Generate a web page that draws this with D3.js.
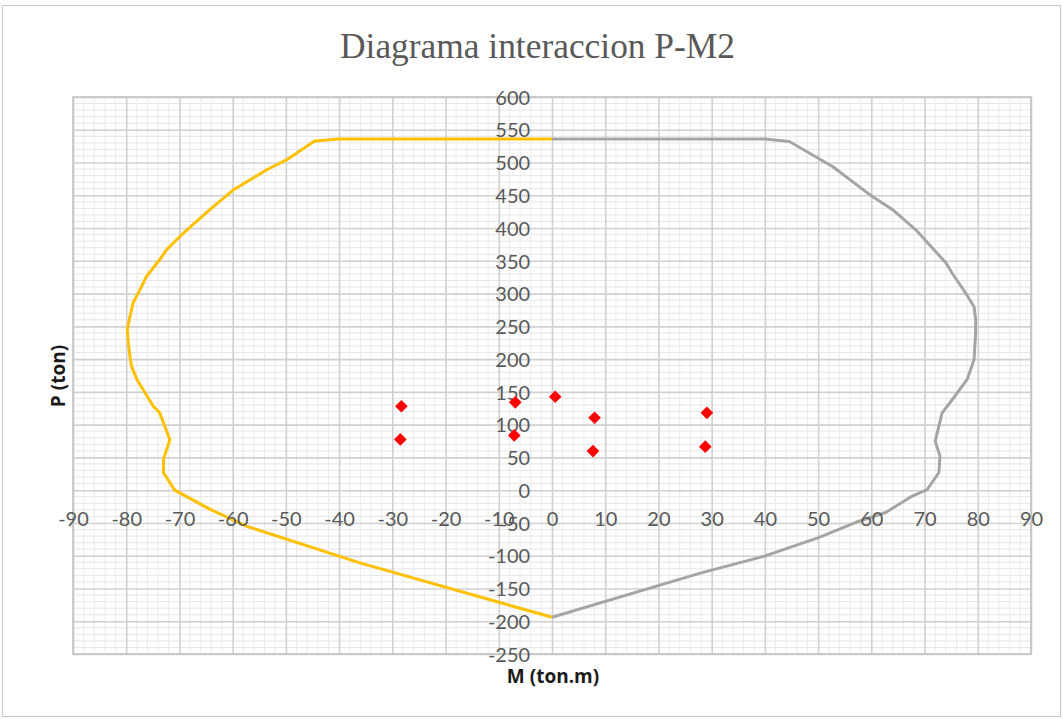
<!DOCTYPE html>
<html>
<head>
<meta charset="utf-8">
<script src="https://cdn.jsdelivr.net/npm/d3@7/dist/d3.min.js"></script>
<style>
  html, body { margin: 0; padding: 0; background: #ffffff; }
  svg { display: block; }
</style>
</head>
<body>
<svg id="chart" width="1063" height="719"></svg>
<script>
// Interaction curve, negative moment branch (M in ton.m, P in ton)
const negM = [0, -40, -44.6, -49.9, -53.6, -59.9, -64.3, -69.3, -72.4, -73.7, -76.2, -77.4, -78.7, -79.3, -79.8, -79.6, -79.3, -79.0, -78.0, -74.9, -73.7, -71.8, -73.0, -73.0, -70.9, -64.3, -57.4, -36.1, 0];
const negP = [536, 536, 533, 504, 489, 458, 428, 392, 367, 352, 326, 306, 286, 265, 245, 225, 204, 189, 169, 128, 118, 77, 47, 27, 0, -29, -55, -111, -194];

// Interaction curve, positive moment branch
const posM = [0, 40, 44.6, 52.7, 60.2, 64.0, 68.4, 74.0, 75.2, 77.7, 79.3, 79.6, 79.6, 79.3, 78.0, 75.2, 73.3, 72.0, 72.9, 72.7, 70.5, 67.7, 62.7, 57.1, 50.2, 40.2, 27.7, 0];
const posP = [536, 536, 532, 494, 448, 428, 397, 347, 331, 301, 280, 260, 240, 199, 169, 138, 118, 75, 52, 27, 1, -9, -34, -49, -72, -100, -127, -194];

// Load combinations (Mu, Pu)
const loadM = [-28.3, -28.5, -6.9, -7.1, 0.6, 8.0, 7.7, 29.1, 28.8];
const loadP = [128, 77.5, 134, 83.6, 142.6, 110.6, 59.7, 118, 66.4];

// Axis ticks
const xTicks = [-90, -80, -70, -60, -50, -40, -30, -20, -10, 0, 10, 20, 30, 40, 50, 60, 70, 80, 90];
const yTicks = [600, 550, 500, 450, 400, 350, 300, 250, 200, 150, 100, 50, 0, -50, -100, -150, -200, -250];

const svg = d3.select("#chart");
const W = 1063, H = 719;
const plot = { left: 73, right: 1031, top: 97, bottom: 654 };

const x = d3.scaleLinear().domain([-90, 90]).range([plot.left, plot.right]);
const y = d3.scaleLinear().domain([-250, 600]).range([plot.bottom, plot.top]);

// plain hyphen-minus labels
const fmt = d => String(d);

// chart frame
svg.append("rect")
  .attr("x", 2.5).attr("y", 5.5).attr("width", W - 5).attr("height", H - 8)
  .attr("fill", "#ffffff").attr("stroke", "#c8c8c8").attr("stroke-width", 1);

// title
svg.append("text")
  .attr("x", 537.5).attr("y", 58)
  .attr("text-anchor", "middle")
  .attr("font-family", "Liberation Serif, serif")
  .attr("font-size", 36)
  .attr("fill", "#595959")
  .attr("textLength", 395)
  .attr("lengthAdjust", "spacingAndGlyphs")
  .text("Diagrama  interaccion  P-M2");

const grid = svg.append("g");

// minor grid
grid.selectAll("line.minx")
  .data(d3.range(-90, 90.01, 2).filter(v => v % 10 !== 0))
  .join("line")
  .attr("x1", d => x(d)).attr("x2", d => x(d))
  .attr("y1", plot.top).attr("y2", plot.bottom)
  .attr("stroke", "#ececec").attr("stroke-width", 1);
grid.selectAll("line.miny")
  .data(d3.range(-250, 600.01, 10).filter(v => v % 50 !== 0))
  .join("line")
  .attr("x1", plot.left).attr("x2", plot.right)
  .attr("y1", d => y(d)).attr("y2", d => y(d))
  .attr("stroke", "#e6e6e6").attr("stroke-width", 1);

// major grid through the axis scales
const gx = svg.append("g")
  .attr("transform", `translate(0,${plot.bottom})`)
  .call(d3.axisBottom(x).tickValues(xTicks).tickSize(-(plot.bottom - plot.top)).tickFormat(""));
gx.select(".domain").remove();
gx.selectAll("line").attr("stroke", "#d0d0d0").attr("stroke-width", 1.6);

const gy = svg.append("g")
  .attr("transform", `translate(${plot.left},0)`)
  .call(d3.axisLeft(y).tickValues(yTicks).tickSize(-(plot.right - plot.left)).tickFormat(""));
gy.select(".domain").remove();
gy.selectAll("line").attr("stroke", "#d0d0d0").attr("stroke-width", 1.6);

// plot border
svg.append("rect")
  .attr("x", plot.left).attr("y", plot.top)
  .attr("width", plot.right - plot.left).attr("height", plot.bottom - plot.top)
  .attr("fill", "none").attr("stroke", "#c4c4c4").attr("stroke-width", 1.6);

// curves
const line = d3.line().x(d => x(d[0])).y(d => y(d[1]));
svg.append("path")
  .datum(posM.map((m, i) => [m, posP[i]]))
  .attr("d", line)
  .attr("fill", "none").attr("stroke", "#a5a5a5").attr("stroke-width", 3)
  .attr("stroke-linejoin", "round");
svg.append("path")
  .datum(negM.map((m, i) => [m, negP[i]]))
  .attr("d", line)
  .attr("fill", "none").attr("stroke", "#ffc000").attr("stroke-width", 3)
  .attr("stroke-linejoin", "round");

// tick labels
const labelFont = "Lato, Carlito, sans-serif";
const xl = svg.append("g")
  .attr("transform", `translate(0,${y(0)})`)
  .call(d3.axisBottom(x).tickValues(xTicks).tickSize(0).tickPadding(0).tickFormat(fmt));
xl.select(".domain").remove();
xl.selectAll("text")
  .attr("y", 36).attr("dy", null)
  .attr("font-family", labelFont).attr("font-size", 20).attr("fill", "#595959");

const yl = svg.append("g")
  .attr("transform", `translate(${x(-4.1)},0)`)
  .call(d3.axisLeft(y).tickValues(yTicks).tickSize(0).tickPadding(0).tickFormat(fmt));
yl.select(".domain").remove();
yl.selectAll("text")
  .attr("x", 0).attr("dy", "0.36em")
  .attr("font-family", labelFont).attr("font-size", 20).attr("fill", "#595959");

// load points
const diamond = d3.symbol().type(d3.symbolSquare).size(80);
svg.append("g").selectAll("path")
  .data(loadM.map((m, i) => [m, loadP[i]]))
  .join("path")
  .attr("d", diamond)
  .attr("transform", d => `translate(${x(d[0])},${y(d[1])}) rotate(45)`)
  .attr("fill", "#ff0000");

// axis titles
svg.append("text")
  .attr("x", 553).attr("y", 683)
  .attr("text-anchor", "middle")
  .attr("font-family", "Open Sans, Liberation Sans, sans-serif")
  .attr("font-weight", "bold").attr("font-size", 19)
  .attr("fill", "#1a1a1a")
  .text("M (ton.m)");

svg.append("text")
  .attr("transform", "translate(65,376) rotate(-90)")
  .attr("text-anchor", "middle")
  .attr("font-family", "Open Sans, Liberation Sans, sans-serif")
  .attr("font-weight", "bold").attr("font-size", 19)
  .attr("fill", "#1a1a1a")
  .text("P (ton)");
</script>
</body>
</html>
